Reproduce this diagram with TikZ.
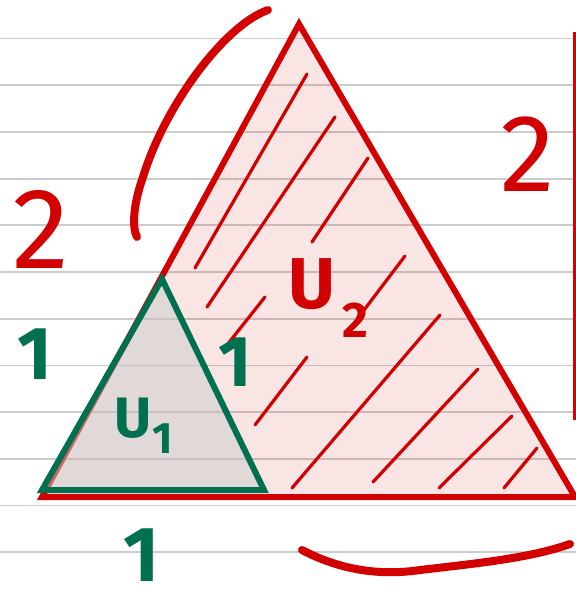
\documentclass[tikz,border=0pt]{standalone}
\usepackage{fontspec}
\setmainfont{Fira Sans}
\definecolor{pen}{RGB}{210,0,0}
\definecolor{ink}{RGB}{0,112,80}
\definecolor{rulegray}{RGB}{204,204,204}
\definecolor{ufillgray}{RGB}{200,206,202}
\begin{document}
\begin{tikzpicture}[x=1pt,y=-1pt,
  ruling/.style={draw=rulegray,line width=1.8pt},
  hatch/.style={draw=pen,line width=3.2pt,line cap=round},
  penstroke/.style={draw=pen,line width=8pt,line cap=round},
  redlbl/.style={text=pen,inner sep=0pt,anchor=base},
  greenlbl/.style={text=ink,inner sep=0pt,anchor=base},
]
\useasboundingbox (0,0) rectangle (576,595);
\fill[white] (0,0) rectangle (576,595);
% ruled paper
\foreach \k in {0,...,11}{
  \draw[ruling] (0,{38.5+46.7*\k}) -- (576,{38.5+46.7*\k});
}
% margin line
\draw[draw=pen,line width=3pt] (574.5,32) -- (574.5,420);
% big triangle U2
\coordinate (A) at (299,24);
\coordinate (B) at (42,497);
\coordinate (C) at (575,497);
\fill[pen,fill opacity=0.1] (A) -- (B) -- (C) -- cycle;
% hatching
\draw[hatch] (307,74) -- (195,268);
\draw[hatch] (335,117) -- (207,307);
\draw[hatch] (368,158) -- (312,242);
\draw[hatch] (405,256) -- (358,318);
\draw[hatch] (265,297) -- (223,350);
\draw[hatch] (307,357) -- (255,425);
\draw[hatch] (440,315) -- (292,488);
\draw[hatch] (478,369) -- (373,482);
\draw[hatch] (512,416) -- (439,488);
\draw[hatch] (537,448) -- (504,488);
\draw[draw=pen,line width=6pt,line join=miter] (A) -- (B) -- (C) -- cycle;
% small triangle U1
\coordinate (P) at (162,279);
\coordinate (Q) at (42,490);
\coordinate (R) at (264,490);
\fill[ufillgray,fill opacity=0.5] (P) -- (Q) -- (R) -- cycle;
\draw[draw=ink,line width=6pt,line join=miter] (P) -- (Q) -- (R) -- cycle;
% braces
\draw[penstroke] (268,10) .. controls (225,25) and (165,105) .. (143,177)
                 .. controls (133,205) and (132,228) .. (137,237);
\draw[penstroke] (302,550) .. controls (340,570) and (380,576) .. (420,570)
                 .. controls (480,563) and (530,558) .. (570,544);
% labels
\node[redlbl,font=\fontsize{115}{115}\selectfont] (lefttwo) at (41,268) {2};
\node[redlbl,font=\fontsize{110}{110}\selectfont] (righttwo) at (528,191) {2};
\node[redlbl,font=\fontsize{72}{72}\selectfont\bfseries] (u2) at (312,308) {U};
\node[redlbl,font=\fontsize{50}{50}\selectfont\bfseries] (u2s) at (355,337) {2};
\node[greenlbl,font=\fontsize{75}{75}\selectfont\bfseries] (oneleft) at (35,379) {1};
\node[greenlbl,font=\fontsize{72}{72}\selectfont\bfseries] (oneright) at (235,386) {1};
\node[greenlbl,font=\fontsize{78}{78}\selectfont\bfseries] (onebottom) at (142,581) {1};
\node[greenlbl,font=\fontsize{57}{57}\selectfont\bfseries] (u1) at (133,437) {U};
\node[greenlbl,font=\fontsize{44}{44}\selectfont\bfseries] (u1s) at (163,453) {1};
\end{tikzpicture}
\end{document}
